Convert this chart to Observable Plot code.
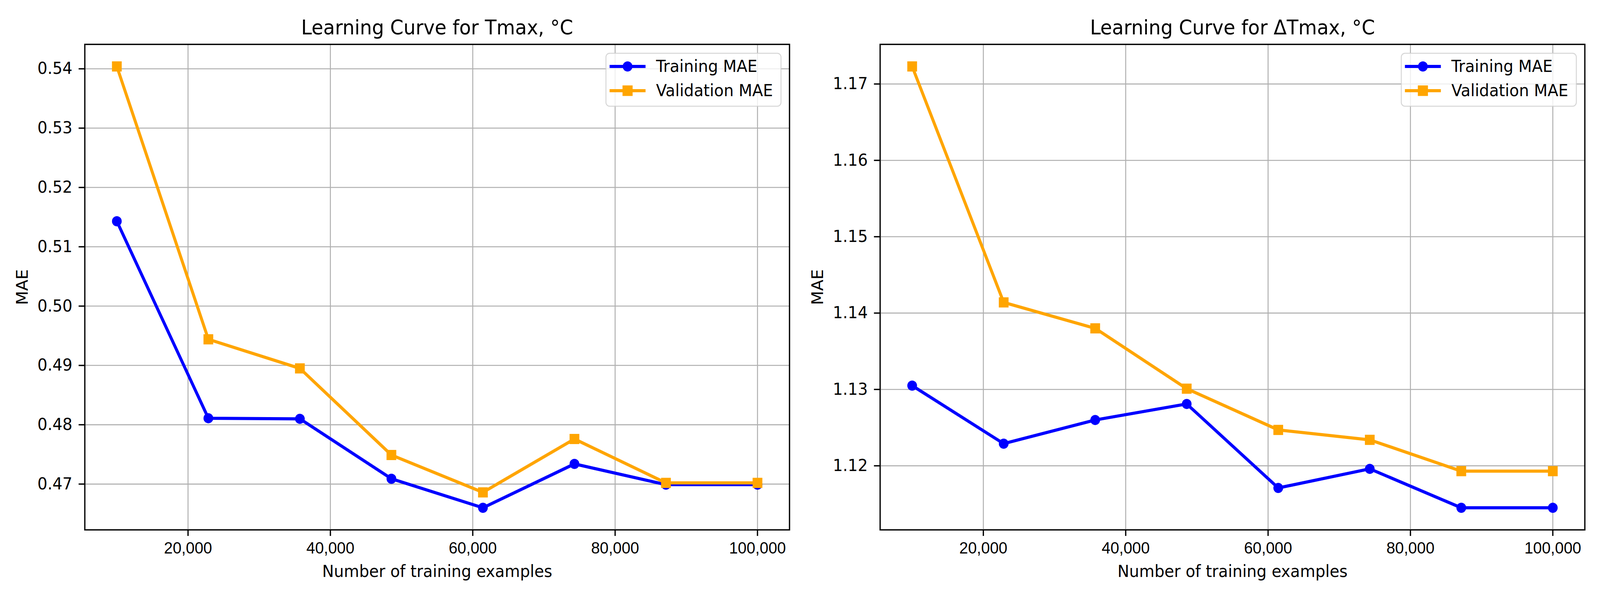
<!DOCTYPE html>
<html>
<head>
<meta charset="utf-8">
<script src="https://cdn.jsdelivr.net/npm/d3@7"></script>
<script src="https://cdn.jsdelivr.net/npm/@observablehq/plot@0.6"></script>
<style>
  html, body { margin: 0; padding: 0; background: #fff; overflow: hidden; }
  #fig { position: relative; width: 4273px; height: 1517px; background: #fff; overflow: hidden; transform-origin: 0 0; }
  #fig > svg { position: absolute; top: 0; display: block; max-width: none; }
  .legend { position: absolute; }
</style>
</head>
<body>
<div id="fig"></div>
<script>
// ---- data ----
const trainSizes = [10000, 22857, 35714, 48571, 61429, 74286, 87143, 100000];

const tmaxTrain = [0.5143, 0.4811, 0.4810, 0.4709, 0.4660, 0.4734, 0.4699, 0.4699];
const tmaxVal   = [0.5404, 0.4944, 0.4895, 0.4749, 0.4686, 0.4776, 0.4702, 0.4702];

const dtmaxTrain = [1.1305, 1.1229, 1.1260, 1.1281, 1.1171, 1.1196, 1.1145, 1.1145];
const dtmaxVal   = [1.1723, 1.1414, 1.1380, 1.1301, 1.1247, 1.1234, 1.1193, 1.1193];

const seriesNames   = ["Training MAE", "Validation MAE"];
const seriesColors  = ["blue", "orange"];
const seriesSymbols = ["circle", "square"];

const xTicks     = [20000, 40000, 60000, 80000, 100000];
const tmaxYTicks = [0.47, 0.48, 0.49, 0.50, 0.51, 0.52, 0.53, 0.54];
const dtYTicks   = [1.12, 1.13, 1.14, 1.15, 1.16, 1.17];

const titles = ["Learning Curve for Tmax, °C", "Learning Curve for ΔTmax, °C"];
const xLabel = "Number of training examples";
const yLabel = "MAE";

// ---- drawing ----
const FIG_W = 4273, FIG_H = 1517;
const M_TOP = 113, M_BOTTOM = 162;

function panel({title, train, val, yTicks, width, marginLeft, marginRight}) {
  const series = [train, val].map((vals, k) =>
    trainSizes.map((x, i) => ({x, y: vals[i], s: seriesNames[k]})));
  const all = train.concat(val);
  const [lo, hi] = d3.extent(all);
  const ypad = (hi - lo) * 0.05;
  const [xl, xh] = d3.extent(trainSizes);
  const xpad = (xh - xl) * 0.05;
  const markR = [13, 14.7];

  return Plot.plot({
    width, height: FIG_H,
    marginLeft, marginRight, marginTop: M_TOP, marginBottom: M_BOTTOM,
    style: {fontFamily: "DejaVu Sans", fontSize: "42px", background: "white", color: "black", overflow: "visible"},
    x: {domain: [xl - xpad, xh + xpad]},
    y: {domain: [lo - ypad, hi + ypad]},
    marks: [
      Plot.gridX(xTicks, {stroke: "#b0b0b0", strokeOpacity: 1, strokeWidth: 2.6}),
      Plot.gridY(yTicks, {stroke: "#b0b0b0", strokeOpacity: 1, strokeWidth: 2.6}),
      ...series.flatMap((rows, k) => [
        Plot.line(rows, {x: "x", y: "y", stroke: seriesColors[k], strokeWidth: 8}),
        Plot.dot(rows, {x: "x", y: "y", fill: seriesColors[k], symbol: seriesSymbols[k], r: markR[k], stroke: "none"})
      ]),
      Plot.frame({stroke: "black", strokeWidth: 3.4}),
      Plot.axisX(xTicks, {tickFormat: d3.format(","), tickSize: 16, tickPadding: 15,
        fontFamily: "Liberation Sans", fontSize: 42, label: null, strokeWidth: 3.4, stroke: "black", fill: "black"}),
      Plot.axisY(yTicks, {tickFormat: d3.format(".2f"), tickSize: 16, tickPadding: 17,
        fontFamily: "DejaVu Sans", fontSize: 42, label: null, strokeWidth: 3.4, stroke: "black", fill: "black"}),
      Plot.text([title], {text: d => d, frameAnchor: "top", dy: -26, lineAnchor: "bottom", fontSize: 51, fill: "black"}),
      Plot.text([xLabel], {text: d => d, frameAnchor: "bottom", dy: 120, lineAnchor: "bottom", fontSize: 42, fill: "black"}),
      Plot.text([yLabel], {text: d => d, frameAnchor: "left", rotate: -90, dx: -166, lineAnchor: "middle", textAnchor: "middle", fontSize: 42, fill: "black"})
    ]
  });
}

function legend(left, top) {
  const W = 470, H = 138;
  const div = document.createElement("div");
  div.className = "legend";
  div.style.left = left + "px";
  div.style.top = top + "px";
  const svg = d3.create("svg").attr("width", W).attr("height", H)
    .style("display", "block").style("overflow", "visible");
  svg.append("rect").attr("x", 1.25).attr("y", 1.25).attr("width", W - 2.5).attr("height", H - 2.5)
    .attr("rx", 10).attr("fill", "white").attr("fill-opacity", 0.8)
    .attr("stroke", "#cccccc").attr("stroke-opacity", 0.8).attr("stroke-width", 2.5);
  const rowY = [35, 97];
  seriesNames.forEach((name, k) => {
    const g = svg.append("g").attr("transform", `translate(0,${rowY[k]})`);
    g.append("line").attr("x1", 11).attr("x2", 107).attr("y1", 0).attr("y2", 0)
      .attr("stroke", seriesColors[k]).attr("stroke-width", 8);
    g.append("path").attr("transform", "translate(59,0)")
      .attr("d", d3.symbol(seriesSymbols[k] === "circle" ? d3.symbolCircle : d3.symbolSquare,
        seriesSymbols[k] === "circle" ? Math.PI * 13 * 13 : 27 * 27)())
      .attr("fill", seriesColors[k]);
    g.append("text").attr("x", 135).attr("y", 14)
      .attr("font-family", "DejaVu Sans").attr("font-size", 42).attr("fill", "black")
      .text(name);
  });
  div.appendChild(svg.node());
  return div;
}

const fig = document.getElementById("fig");
const p1 = panel({title: titles[0], train: tmaxTrain, val: tmaxVal, yTicks: tmaxYTicks,
  width: 2136, marginLeft: 226, marginRight: 28});
p1.style.left = "0px";
const p2 = panel({title: titles[1], train: dtmaxTrain, val: dtmaxVal, yTicks: dtYTicks,
  width: 2137, marginLeft: 214, marginRight: 41});
p2.style.left = "2136px";
fig.appendChild(p1);
fig.appendChild(p2);
fig.appendChild(legend(1617, 135));
fig.appendChild(legend(3741, 135));

// the browser viewport may be narrower than the requested figure width; fit it horizontally
const sx = Math.min(1, window.innerWidth / FIG_W);
fig.style.transform = `scale(${sx}, 1)`;
</script>
</body>
</html>
